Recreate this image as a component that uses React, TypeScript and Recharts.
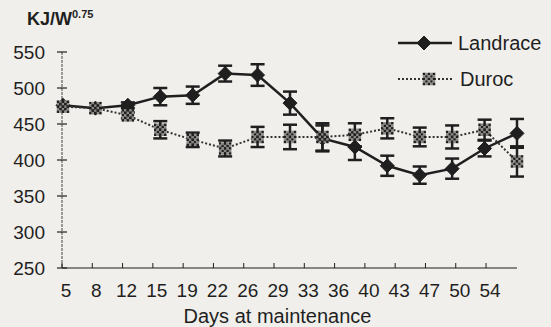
import { LineChart, Line, XAxis, YAxis, ErrorBar } from 'recharts';

const days = ['5', '8', '12', '15', '19', '22', '26', '29', '33', '36', '40', '43', '47', '50', '54'];
const landrace = [476, 472, 476, 488, 490, 520, 518, 479, 430, 418, 392, 379, 388, 416, 437];
const landraceErr = [0, 0, 4, 12, 12, 11, 15, 16, 18, 18, 14, 12, 14, 11, 20];
const duroc = [474, 472, 462, 442, 428, 416, 432, 432, 432, 435, 444, 432, 432, 442, 398];
const durocErr = [0, 0, 4, 12, 10, 11, 14, 17, 19, 16, 14, 13, 16, 14, 21];
const yTicks = [250, 300, 350, 400, 450, 500, 550];

const data = days.map((d, i) => ({
  day: d,
  landrace: landrace[i],
  lErr: landraceErr[i],
  duroc: duroc[i],
  dErr: durocErr[i],
}));

const INK = '#1f1f1f';
const BG = '#f1efeb';
const FONT = '"Liberation Sans", Arial, sans-serif';
const PLOT_LEFT = 62;
// tick labels in the scan sit a bit tighter than the points
const SQUEEZE = 0.934;

function Diamond({ cx, cy, size = 7 }: { cx: number; cy: number; size?: number }) {
  return (
    <polygon
      points={`${cx},${cy - size} ${cx + size},${cy} ${cx},${cy + size} ${cx - size},${cy}`}
      fill={INK}
      stroke={INK}
      strokeWidth={1}
    />
  );
}

function Checker({ cx, cy, cell = 2.5, n = 5 }: { cx: number; cy: number; cell?: number; n?: number }) {
  const half = (cell * n) / 2;
  const cells = [];
  for (let r = 0; r < n; r++) {
    for (let c = 0; c < n; c++) {
      cells.push(
        <rect
          key={`${r}-${c}`}
          x={cx - half + c * cell}
          y={cy - half + r * cell}
          width={cell}
          height={cell}
          fill={(r + c) % 2 === 0 ? '#1f1f1f' : '#8c8a86'}
        />
      );
    }
  }
  return <g>{cells}</g>;
}

const LandraceDot = (props: any) => {
  const { cx, cy, index } = props;
  if (cx == null || cy == null) return <g key={`ld-${index}`} />;
  return <Diamond key={`ld-${index}`} cx={cx} cy={cy} />;
};

const DurocDot = (props: any) => {
  const { cx, cy, index } = props;
  if (cx == null || cy == null) return <g key={`dd-${index}`} />;
  return <Checker key={`dd-${index}`} cx={cx} cy={cy} />;
};

const YTick = (props: any) => {
  const { x, y, payload } = props;
  return (
    <g>
      <line x1={x - 5} x2={x + 5} y1={y} y2={y} stroke={INK} strokeWidth={1.2} />
      <text x={x - 17} y={y} dy="0.36em" textAnchor="end" fill={INK} fontSize={19} fontFamily={FONT}>
        {payload.value}
      </text>
    </g>
  );
};

const XTick = (props: any) => {
  const { x, y, payload } = props;
  const lx = PLOT_LEFT + 4 + (x - PLOT_LEFT - 1) * SQUEEZE;
  return (
    <g>
      <line x1={lx - 4} x2={lx - 4} y1={y} y2={y - 5} stroke={INK} strokeWidth={1} />
      <text x={lx} y={y + 29} textAnchor="middle" fill={INK} fontSize={19} fontFamily={FONT}>
        {payload.value}
      </text>
    </g>
  );
};

function LegendRow({ top, label, kind }: { top: number; label: string; kind: 'l' | 'd' }) {
  return (
    <div style={{ position: 'absolute', left: 396, top: top - 14, height: 28, display: 'flex', alignItems: 'center' }}>
      <svg width={60} height={28}>
        {kind === 'l' ? (
          <>
            <line x1={2} x2={56} y1={14} y2={14} stroke={INK} strokeWidth={2.5} />
            <Diamond cx={28} cy={14} />
          </>
        ) : (
          <>
            <line x1={2} x2={56} y1={14} y2={14} stroke="#333" strokeWidth={2} strokeDasharray="2 2" />
            <Checker cx={33} cy={14} />
          </>
        )}
      </svg>
      <span style={{ fontFamily: FONT, fontSize: 20, color: INK, marginLeft: kind === 'l' ? 2 : 4 }}>{label}</span>
    </div>
  );
}

export default function App() {
  return (
    <div style={{ position: 'absolute', left: 0, top: 0, width: 551, height: 327, background: BG, overflow: 'hidden' }}>
      <div
        style={{
          position: 'absolute',
          left: 27,
          top: 8,
          fontFamily: FONT,
          fontWeight: 700,
          fontSize: 18,
          color: INK,
          whiteSpace: 'nowrap',
        }}
      >
        KJ/W<sup style={{ fontSize: 11 }}>0.75</sup>
      </div>
      <LegendRow top={43} label="Landrace" kind="l" />
      <LegendRow top={79} label="Duroc" kind="d" />
      <LineChart
        width={551}
        height={327}
        data={data}
        margin={{ top: 52, right: 34, bottom: 3, left: 0 }}
        style={{ position: 'absolute', left: 0, top: 0 }}
      >
        <XAxis
          dataKey="day"
          height={56}
          padding={{ left: 1, right: 0 }}
          axisLine={{ stroke: INK, strokeWidth: 1.2 }}
          tickLine={false}
          tickSize={0}
          tickMargin={0}
          interval={0}
          tick={<XTick />}
          label={{
            value: 'Days at maintenance',
            position: 'insideBottom',
            offset: 1,
            dx: -12,
            fill: INK,
            fontSize: 20,
            fontFamily: FONT,
          }}
        />
        <YAxis
          type="number"
          domain={[250, 550]}
          ticks={yTicks}
          width={62}
          axisLine={{ stroke: '#444', strokeWidth: 1, strokeDasharray: '3 1' }}
          tickLine={false}
          tickSize={0}
          tickMargin={0}
          interval={0}
          tick={<YTick />}
        />
        <Line
          dataKey="landrace"
          stroke={INK}
          strokeWidth={2.5}
          dot={LandraceDot}
          activeDot={false}
          isAnimationActive={false}
        >
          <ErrorBar dataKey="lErr" width={7} stroke={INK} strokeWidth={2.5} direction="y" />
        </Line>
        <Line
          dataKey="duroc"
          stroke="#333"
          strokeWidth={2}
          strokeDasharray="2 2"
          dot={DurocDot}
          activeDot={false}
          isAnimationActive={false}
        >
          <ErrorBar dataKey="dErr" width={7} stroke={INK} strokeWidth={2.5} direction="y" />
        </Line>
      </LineChart>
    </div>
  );
}
